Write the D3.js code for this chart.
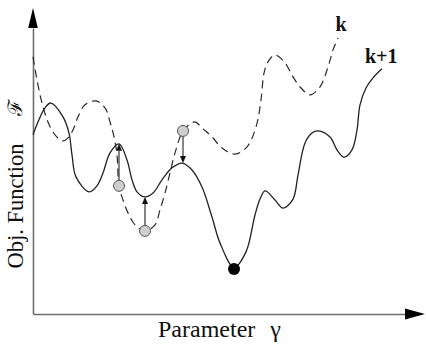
<!DOCTYPE html>
<html>
<head>
<meta charset="utf-8">
<script src="https://cdn.jsdelivr.net/npm/d3@7/dist/d3.min.js"></script>
<style>
  html, body { margin: 0; padding: 0; background: #fff; }
  svg { display: block; }
  text { font-family: "Liberation Serif", "DejaVu Serif", serif; fill: #111; }
</style>
</head>
<body>
<svg id="chart" width="426" height="344"></svg>
<script>
// Objective function at iteration k (dashed): [parameter, value]
const curveK = [
  [0, 85.7], [1, 78], [2.25, 70.3], [3.75, 64], [5.5, 59.7], [7.5, 57.7],
  [8.75, 58.7], [10, 61.3], [11.25, 65.7], [13, 69.7], [15.75, 71],
  [18, 68.7], [19.25, 64], [20.25, 59], [21, 53], [21.5, 42.7], [22.5, 38],
  [23.75, 33.7], [25.5, 29.7], [28, 27.7], [30.5, 29.7], [31.75, 34.7],
  [33, 40.3], [34.25, 47], [35.5, 53.7], [37.5, 61], [39.25, 63.3],
  [40.5, 64], [42.5, 61.7], [44.75, 59], [47.25, 55.3], [50.5, 53.3],
  [53.5, 55.7], [55.75, 62.3], [57, 71.3], [57.75, 80.3], [58.75, 84],
  [60.5, 86.3], [63, 83.7], [65, 79], [67, 75.3], [69.25, 73], [71.75, 75.7],
  [73.75, 82.3], [75, 88], [76.25, 92]
];

// Objective function at iteration k+1 (solid): [parameter, value]
const curveK1 = [
  [0, 59.7], [1.25, 64], [3, 68.7], [4.5, 70.3], [7.5, 65.7], [9, 60.3],
  [9.75, 53], [10.75, 45.7], [14, 40.7], [16, 42.7], [17.5, 47],
  [19.25, 53.7], [21.5, 56.7], [23.5, 51.3], [24.75, 44.7], [26, 40.7],
  [28, 39], [30, 40.3], [32.25, 44.7], [34.75, 48.7], [37.25, 50.3],
  [39.75, 48], [42.25, 42.3], [44.75, 32.3], [46.75, 23.7], [50.25, 15.5],
  [53.25, 20.7], [55.5, 33], [56.75, 38.3], [58, 41], [60.5, 38],
  [62.5, 35.3], [65, 38.3], [66.25, 46.3], [68, 57], [69.75, 60.3],
  [71.25, 61], [74.25, 59], [76, 54.7], [77.75, 52.3], [79.75, 54.7],
  [81, 61.3], [81.75, 69.7], [83.25, 75.3], [85, 78.7], [87.25, 81.7]
];

// Trial points moved from the k curve onto the k+1 curve
const trialX = [21.5, 28, 37.5];
const trialFrom = [42.7, 27.7, 61];
const trialTo = [56.7, 39, 50.3];

// Global minimum of the k+1 curve
const bestPoint = [50.25, 15.5];

// Labels
const curveLabels = ["k", "k+1"];
const xTitle = ["Parameter", "\u03b3"];
const yTitle = "Obj. Function";
const yScript = "\u2131";

const svg = d3.select("#chart");

const x = d3.scaleLinear().domain([0, 93]).range([33, 405]);
const y = d3.scaleLinear().domain([0, 95.3]).range([314, 28]);

const axisColor = "#6e6e6e";

// Axes: plain lines with filled arrowheads
const gx = svg.append("g").attr("transform", `translate(0,${y(0)})`)
  .call(d3.axisBottom(x).tickValues([]).tickSizeOuter(0));
gx.select(".domain").attr("stroke", axisColor).attr("stroke-width", 1.6);
const gy = svg.append("g").attr("transform", `translate(${x(0)},0)`)
  .call(d3.axisLeft(y).tickValues([]).tickSizeOuter(0));
gy.select(".domain").attr("stroke", axisColor).attr("stroke-width", 1.6);

const xEnd = x(93), yEnd = y(95.3);
svg.append("path")
  .attr("d", `M${xEnd},${y(0) - 5.5}L${xEnd + 20},${y(0)}L${xEnd},${y(0) + 5.5}Z`)
  .attr("fill", "#000");
svg.append("path")
  .attr("d", `M${x(0) - 4.8},${yEnd}L${x(0)},${yEnd - 20}L${x(0) + 4.8},${yEnd}Z`)
  .attr("fill", "#000");

const line = d3.line()
  .x(d => x(d[0]))
  .y(d => y(d[1]))
  .curve(d3.curveCatmullRom.alpha(0.5));

svg.append("path")
  .datum(curveK)
  .attr("d", line)
  .attr("fill", "none")
  .attr("stroke", "#2a2a2a")
  .attr("stroke-width", 1.2)
  .attr("stroke-dasharray", "8,5");

svg.append("path")
  .datum(curveK1)
  .attr("d", line)
  .attr("fill", "none")
  .attr("stroke", "#222")
  .attr("stroke-width", 1.3);

// Arrows from each trial point to its updated value
const r = 5.5;
trialX.forEach((tx, i) => {
  const px = x(tx);
  const y0 = y(trialFrom[i]);
  const y1 = y(trialTo[i]);
  const dir = y1 < y0 ? -1 : 1;
  const start = y0 + dir * r;
  const tip = y1;
  const head = 7;
  svg.append("line")
    .attr("x1", px).attr("y1", start)
    .attr("x2", px).attr("y2", tip - dir * head)
    .attr("stroke", "#333").attr("stroke-width", 1.2);
  svg.append("path")
    .attr("d", `M${px - 3},${tip - dir * head}L${px},${tip}L${px + 3},${tip - dir * head}Z`)
    .attr("fill", "#111");
});

svg.selectAll("circle.trial")
  .data(trialX)
  .join("circle")
  .attr("class", "trial")
  .attr("cx", d => x(d))
  .attr("cy", (d, i) => y(trialFrom[i]))
  .attr("r", r)
  .attr("fill", "#cfcfcf")
  .attr("stroke", "#555")
  .attr("stroke-width", 1);

svg.append("circle")
  .attr("cx", x(bestPoint[0]))
  .attr("cy", y(bestPoint[1]) + 1.5)
  .attr("r", 6)
  .attr("fill", "#000");

// Curve labels
svg.append("text")
  .attr("x", x(curveK[curveK.length - 1][0]) + 3)
  .attr("y", 31)
  .attr("text-anchor", "middle")
  .attr("font-size", 20)
  .attr("font-weight", "bold")
  .text(curveLabels[0]);

svg.append("text")
  .attr("x", 365)
  .attr("y", 63)
  .attr("font-size", 20)
  .attr("font-weight", "bold")
  .text(curveLabels[1]);

// Axis titles
const xt = svg.append("text")
  .attr("x", 158)
  .attr("y", 337)
  .attr("font-size", 24);
xt.append("tspan").text(xTitle[0]);
xt.append("tspan").attr("dx", 15).text(xTitle[1]);

svg.append("text")
  .attr("transform", "translate(23,206) rotate(-90)")
  .attr("text-anchor", "middle")
  .attr("font-size", 22.5)
  .text(yTitle);

svg.append("text")
  .attr("transform", "translate(22,108) rotate(-90)")
  .attr("text-anchor", "middle")
  .attr("font-size", 20)
  .text(yScript);
</script>
</body>
</html>
